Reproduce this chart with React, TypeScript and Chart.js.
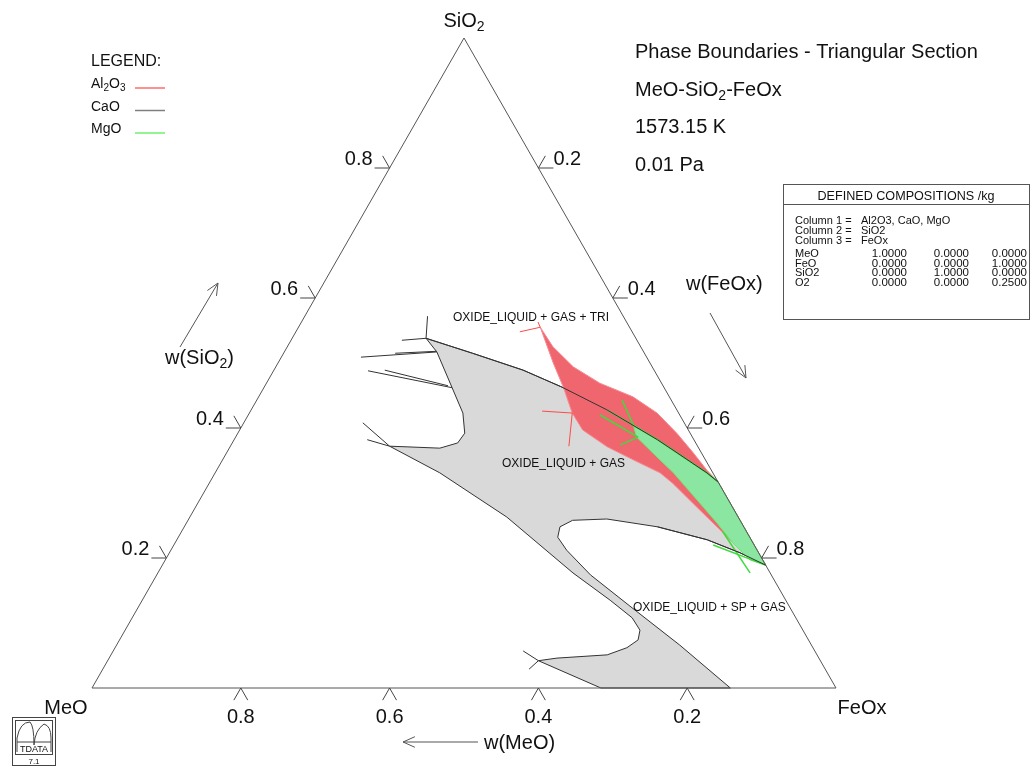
import React, { useEffect, useRef } from "react";
import { Chart, registerables } from "chart.js";

Chart.register(...registerables);

// Compositions as [w(SiO2), w(FeOx)]; w(MeO) = 1 - w(SiO2) - w(FeOx)
const triangleEdges: [number, number][] = [[0, 0], [1, 0], [0, 1], [0, 0]];

const liquidGasRegion: [number, number][] = [
  [0.538, 0.180], [0.515, 0.254], [0.489, 0.335], [0.463, 0.400], [0.428, 0.478], [0.382, 0.569],
  [0.366, 0.598], [0.331, 0.661], [0.317, 0.683], [0.189, 0.811],
  [0.208, 0.767], [0.228, 0.713], [0.248, 0.636], [0.260, 0.562], [0.258, 0.517], [0.248, 0.505],
  [0.232, 0.510], [0.212, 0.532], [0.174, 0.583], [0.126, 0.660], [0.066, 0.757], [0, 0.858],
  [0, 0.684], [0.042, 0.579],
  [0.046, 0.602], [0.051, 0.667], [0.062, 0.688], [0.074, 0.697], [0.089, 0.692], [0.108, 0.672],
  [0.135, 0.629], [0.177, 0.558], [0.263, 0.426], [0.331, 0.302], [0.372, 0.214],
  [0.371, 0.238], [0.369, 0.283], [0.377, 0.303], [0.392, 0.305], [0.423, 0.287], [0.462, 0.253],
  [0.517, 0.205], [0.538, 0.180],
];

const upperBoundary: [number, number][] = [
  [0.538, 0.180], [0.515, 0.254], [0.489, 0.335], [0.463, 0.400], [0.428, 0.478], [0.382, 0.569],
  [0.366, 0.598], [0.331, 0.661], [0.317, 0.683],
];

const lobeBoundaryNearVertex: [number, number][] = [
  [0.248, 0.636], [0.228, 0.713], [0.208, 0.767], [0.189, 0.811],
];

const al2o3Region: [number, number][] = [
  [0.555, 0.325], [0.525, 0.357], [0.494, 0.400], [0.469, 0.448], [0.448, 0.503], [0.423, 0.548],
  [0.392, 0.590], [0.362, 0.627], [0.335, 0.659], [0.317, 0.683], [0.189, 0.811],
  [0.197, 0.790], [0.223, 0.750], [0.243, 0.723], [0.263, 0.695], [0.289, 0.659], [0.315, 0.623],
  [0.331, 0.598], [0.351, 0.552], [0.371, 0.507], [0.397, 0.461], [0.423, 0.434], [0.463, 0.402],
  [0.500, 0.370], [0.555, 0.325],
];

const mgoRegion: [number, number][] = [
  [0.405, 0.525], [0.382, 0.569], [0.366, 0.598], [0.331, 0.661], [0.317, 0.683], [0.189, 0.811],
  [0.197, 0.786], [0.223, 0.750], [0.254, 0.713], [0.289, 0.669], [0.331, 0.616], [0.358, 0.578],
  [0.386, 0.539], [0.405, 0.525],
];

const caoLines: [number, number][][] = [
  [[0.538, 0.180], [0.572, 0.165]],
  [[0.538, 0.180], [0.535, 0.149]],
  [[0.509, 0.107], [0.517, 0.205]],
  [[0.515, 0.150], [0.518, 0.204]],
  [[0.488, 0.127], [0.462, 0.253]],
  [[0.489, 0.149], [0.465, 0.246]],
  [[0.408, 0.160], [0.372, 0.214]],
  [[0.382, 0.179], [0.372, 0.214]],
  [[0.057, 0.551], [0.042, 0.579]],
  [[0.029, 0.573], [0.042, 0.579]],
];

const al2o3Lines: [number, number][][] = [
  [[0.555, 0.325], [0.548, 0.301]],
  [[0.555, 0.325], [0.563, 0.318]],
  [[0.423, 0.434], [0.426, 0.392]],
  [[0.423, 0.434], [0.372, 0.455]],
];

const mgoLines: [number, number][][] = [
  [[0.428, 0.478], [0.382, 0.569], [0.366, 0.598], [0.331, 0.661], [0.317, 0.683]],
  [[0.443, 0.491], [0.405, 0.525]],
  [[0.420, 0.473], [0.386, 0.541]],
  [[0.374, 0.523], [0.386, 0.541]],
  [[0.240, 0.728], [0.177, 0.796]],
  [[0.220, 0.725], [0.189, 0.811]],
];

const tickValues = [0.2, 0.4, 0.6, 0.8];
const tickLabels = ["0.2", "0.4", "0.6", "0.8"];

type Run = [string, boolean?];
const titleLines: Run[][] = [
  [["Phase Boundaries - Triangular Section"]],
  [["MeO-SiO"], ["2", true], ["-FeOx"]],
  [["1573.15 K"]],
  [["0.01 Pa"]],
];
const legendNames: Run[][] = [[["Al"], ["2", true], ["O"], ["3", true]], [["CaO"]], [["MgO"]]];
const legendColors = ["#ff6b6b", "#7f7f7f", "#6cf36c"];
const regionLabels = ["OXIDE_LIQUID + GAS + TRI", "OXIDE_LIQUID + GAS", "OXIDE_LIQUID + SP + GAS"];
const tableTitle = "DEFINED COMPOSITIONS /kg";
const tableColumns = ["Al2O3, CaO, MgO", "SiO2", "FeOx"];
const tableRows = ["MeO", "FeO", "SiO2", "O2"];
const tableValues = [
  [1, 0, 0],
  [0, 0, 1],
  [0, 1, 0],
  [0, 0, 0.25],
];

const FONT = '"Liberation Sans", Arial, Helvetica, sans-serif';

function toXY(p: [number, number]) {
  return { x: p[1] + p[0] / 2, y: p[0] };
}

function drawRuns(ctx: CanvasRenderingContext2D, runs: Run[], x: number, y: number, size: number, align = "left") {
  const subSize = Math.round(size * 0.72);
  const widths = runs.map(([t, sub]) => {
    ctx.font = `${sub ? subSize : size}px ${FONT}`;
    return ctx.measureText(t).width;
  });
  const total = widths.reduce((a, b) => a + b, 0);
  let cx = align === "left" ? x : align === "center" ? x - total / 2 : x - total;
  ctx.textAlign = "left";
  ctx.textBaseline = "alphabetic";
  runs.forEach(([t, sub], i) => {
    ctx.font = `${sub ? subSize : size}px ${FONT}`;
    ctx.fillText(t, cx, sub ? y + size * 0.22 : y);
    cx += widths[i];
  });
}

function line(ctx: CanvasRenderingContext2D, x1: number, y1: number, x2: number, y2: number) {
  ctx.beginPath();
  ctx.moveTo(x1, y1);
  ctx.lineTo(x2, y2);
  ctx.stroke();
}

function arrow(ctx: CanvasRenderingContext2D, x1: number, y1: number, x2: number, y2: number) {
  line(ctx, x1, y1, x2, y2);
  const a = Math.atan2(y2 - y1, x2 - x1);
  const h = 13;
  const spread = (24 * Math.PI) / 180;
  line(ctx, x2, y2, x2 - h * Math.cos(a - spread), y2 - h * Math.sin(a - spread));
  line(ctx, x2, y2, x2 - h * Math.cos(a + spread), y2 - h * Math.sin(a + spread));
}

const decorPlugin = {
  id: "ternaryDecor",
  afterDatasetsDraw(chart: any) {
    const ctx: CanvasRenderingContext2D = chart.ctx;
    const xs = chart.scales.x;
    const ys = chart.scales.y;
    const P = (s: number, f: number) => [xs.getPixelForValue(f + s / 2), ys.getPixelForValue(s)];
    const left = P(0, 0), apex = P(1, 0), right = P(0, 1);
    const nl = Math.hypot(apex[0] - left[0], apex[1] - left[1]);
    const upL = [(apex[0] - left[0]) / nl, (apex[1] - left[1]) / nl];
    const nr = Math.hypot(right[0] - apex[0], right[1] - apex[1]);
    const downR = [(right[0] - apex[0]) / nr, (right[1] - apex[1]) / nr];
    const T = 14;
    ctx.save();
    ctx.strokeStyle = "#444";
    ctx.fillStyle = "#111";
    ctx.lineWidth = 1;
    tickValues.forEach((v, i) => {
      // w(SiO2) on left edge
      let [x, y] = P(v, 0);
      line(ctx, x, y, x - 15, y);
      line(ctx, x, y, x - T * downR[0], y - T * downR[1]);
      drawRuns(ctx, [[tickLabels[i]]], x - 17, y - 3, 20, "right");
      // w(FeOx) on right edge
      [x, y] = P(1 - v, v);
      line(ctx, x, y, x + 15, y);
      line(ctx, x, y, x + T * upL[0], y + T * upL[1]);
      drawRuns(ctx, [[tickLabels[i]]], x + 15, y - 3, 20, "left");
      // w(MeO) on base
      [x, y] = P(0, 1 - v);
      line(ctx, x, y, x - T * upL[0], y - T * upL[1]);
      line(ctx, x, y, x + T * downR[0], y + T * downR[1]);
      drawRuns(ctx, [[tickLabels[i]]], x, y + 35, 20, "center");
    });
    // vertex labels
    drawRuns(ctx, [["SiO"], ["2", true]], apex[0], apex[1] - 11, 20, "center");
    drawRuns(ctx, [["MeO"]], left[0] - 26, left[1] + 26, 20, "center");
    drawRuns(ctx, [["FeOx"]], right[0] + 26, right[1] + 26, 20, "center");

    // axis arrows
    ctx.strokeStyle = "#555";
    arrow(ctx, 180, 347, 218, 283);
    drawRuns(ctx, [["w(SiO"], ["2", true], [")"]], 165, 364, 20, "left");
    arrow(ctx, 710, 313, 746, 378);
    drawRuns(ctx, [["w(FeOx)"]], 686, 290, 20, "left");
    arrow(ctx, 478, 742, 403, 742);
    drawRuns(ctx, [["w(MeO)"]], 484, 749, 20, "left");

    // titles
    titleLines.forEach((runs, i) => drawRuns(ctx, runs, 635, 58 + i * 37.7, 20, "left"));

    // legend
    drawRuns(ctx, [["LEGEND:"]], 91, 66, 16, "left");
    legendNames.forEach((runs, i) => {
      const yb = 88 + i * 22.5;
      drawRuns(ctx, runs, 91, yb, 14, "left");
      ctx.strokeStyle = legendColors[i];
      ctx.lineWidth = 1.5;
      line(ctx, 135, yb, 165, yb);
    });
    ctx.lineWidth = 1;

    // region labels
    drawRuns(ctx, [[regionLabels[0]]], 453, 321, 12, "left");
    drawRuns(ctx, [[regionLabels[1]]], 502, 467, 12, "left");
    drawRuns(ctx, [[regionLabels[2]]], 633, 611, 12, "left");

    // table
    ctx.strokeStyle = "#555";
    ctx.strokeRect(783.5, 184.5, 246, 135);
    line(ctx, 783, 204.5, 1029, 204.5);
    drawRuns(ctx, [[tableTitle]], 906, 200, 12.6, "center");
    tableColumns.forEach((c, i) => {
      const yb = 224 + i * 10;
      drawRuns(ctx, [[`Column ${i + 1} =`]], 795, yb, 11, "left");
      drawRuns(ctx, [[c]], 861, yb, 11, "left");
    });
    const colRight = [907, 969, 1027];
    tableRows.forEach((r, i) => {
      const yb = 257 + i * 9.7;
      drawRuns(ctx, [[r]], 795, yb, 11, "left");
      tableValues[i].forEach((v, j) => drawRuns(ctx, [[v.toFixed(4)]], colRight[j], yb, 11.5, "right"));
    });

    // logo
    ctx.strokeStyle = "#444";
    ctx.strokeRect(12.5, 717.5, 43, 48);
    ctx.strokeRect(15.5, 720.5, 37, 34);
    ctx.beginPath();
    ctx.moveTo(17, 752);
    ctx.lineTo(17, 738);
    ctx.quadraticCurveTo(20, 722, 30, 722);
    ctx.quadraticCurveTo(34, 726, 34, 745);
    ctx.quadraticCurveTo(35, 730, 44, 724);
    ctx.quadraticCurveTo(51, 726, 51, 738);
    ctx.lineTo(51, 752);
    ctx.stroke();
    line(ctx, 17, 742, 51, 742);
    drawRuns(ctx, [["TDATA"]], 34, 752, 9, "center");
    drawRuns(ctx, [["7.1"]], 34, 764, 8, "center");
    ctx.restore();
  },
};

export default function App() {
  const ref = useRef<HTMLCanvasElement | null>(null);
  useEffect(() => {
    if (!ref.current) return;
    const seq: any[] = [];
    const poly = (pts: [number, number][], o: any) =>
      seq.push({
        data: pts.map(toXY),
        pointRadius: 0,
        tension: 0,
        clip: false,
        borderWidth: 1,
        fill: false,
        ...o,
      });
    poly(liquidGasRegion, { backgroundColor: "#d9d9d9", borderColor: "#333", fill: "shape" });
    poly(al2o3Region, { backgroundColor: "#f0666f", borderColor: "#f58a90", fill: "shape" });
    poly(mgoRegion, { backgroundColor: "#8be6a2", borderColor: "#6ee86e", fill: "shape" });
    mgoLines.forEach((l) => poly(l, { borderColor: "#3ddc3d", borderWidth: 1.5 }));
    poly(upperBoundary, { borderColor: "#333" });
    poly(lobeBoundaryNearVertex, { borderColor: "#333" });
    caoLines.forEach((l) => poly(l, { borderColor: "#333" }));
    al2o3Lines.forEach((l) => poly(l, { borderColor: "#ff4a4a" }));
    poly(triangleEdges, { borderColor: "#555" });
    const n = seq.length;
    seq.forEach((d, i) => (d.order = n - i));

    const chart = new Chart(ref.current, {
      type: "line",
      data: { datasets: seq },
      options: {
        responsive: false,
        animation: false,
        devicePixelRatio: 1,
        events: [],
        layout: { padding: { left: 92, right: 195, top: 38, bottom: 81 } },
        scales: {
          x: { type: "linear", min: 0, max: 1, display: false },
          y: { type: "linear", min: 0, max: 1, display: false },
        },
        plugins: { legend: { display: false }, tooltip: { enabled: false } },
      },
      plugins: [decorPlugin],
    } as any);
    return () => chart.destroy();
  }, []);
  return (
    <div style={{ position: "absolute", left: 0, top: 0, width: 1031, height: 769, background: "#fff" }}>
      <canvas ref={ref} width={1031} height={769} style={{ display: "block" }} />
    </div>
  );
}
